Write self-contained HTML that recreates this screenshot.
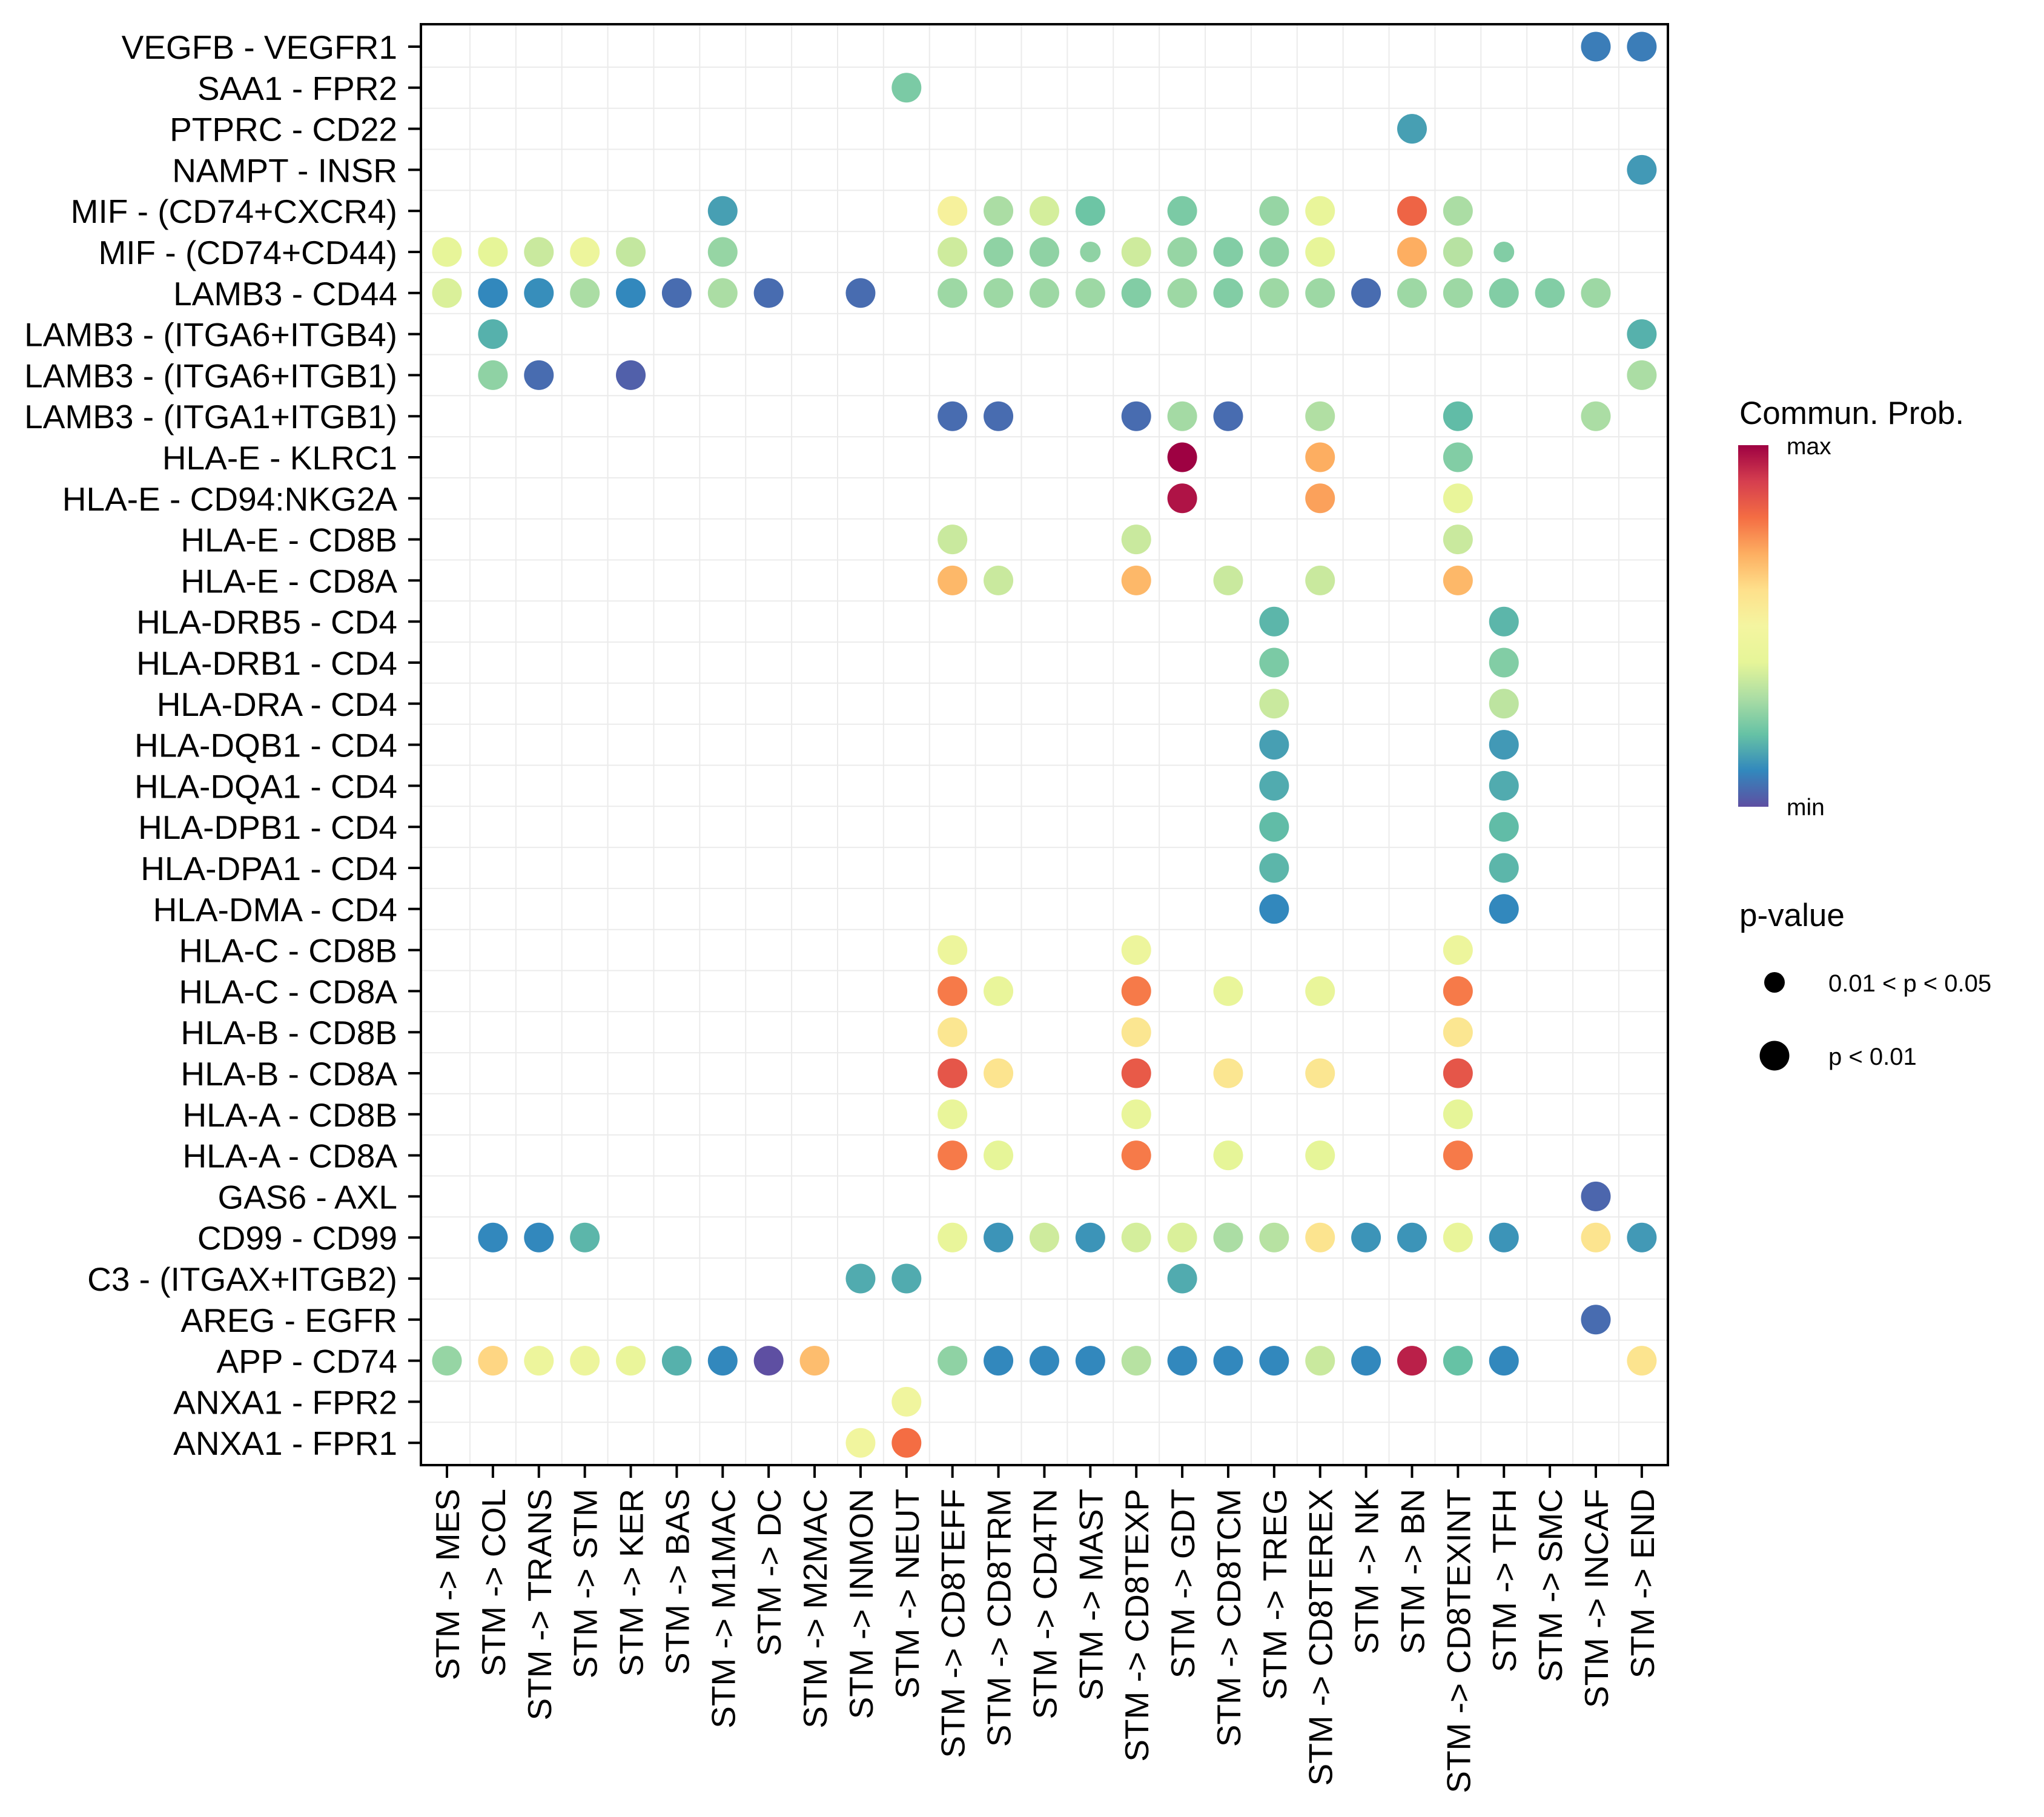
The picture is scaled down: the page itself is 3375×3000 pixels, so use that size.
<!DOCTYPE html>
<html><head><meta charset="utf-8"><style>
html,body{margin:0;padding:0;background:#fff;}
svg{display:block;font-family:"Liberation Sans",Arial,sans-serif;}
</style></head><body>
<svg id="chart" width="3375" height="3000" viewBox="0 0 3375 3000" xmlns="http://www.w3.org/2000/svg">
<defs>
<linearGradient id="spec" x1="0" y1="1" x2="0" y2="0">
<stop offset="0" stop-color="#5E4FA2"/><stop offset="0.1" stop-color="#3288BD"/><stop offset="0.2" stop-color="#66C2A5"/><stop offset="0.3" stop-color="#ABDDA4"/><stop offset="0.4" stop-color="#E6F598"/><stop offset="0.5" stop-color="#F4F5A0"/><stop offset="0.6" stop-color="#FEE08B"/><stop offset="0.7" stop-color="#FDAE61"/><stop offset="0.8" stop-color="#F46D43"/><stop offset="0.9" stop-color="#D53E4F"/><stop offset="1" stop-color="#9E0142"/>
</linearGradient>
</defs>
<g id="grid"></g>
<g id="dots"></g>
<rect x="695" y="40" width="2059" height="2379" fill="none" stroke="#000" stroke-width="4"/>
<g id="yaxis"></g>
<g id="xaxis"></g>
<g>
<text x="2872" y="700" font-size="53">Commun. Prob.</text>
<rect x="2870" y="735" width="50" height="597" fill="url(#spec)"/>
<text x="2950" y="750" font-size="39">max</text>
<text x="2950" y="1346" font-size="39">min</text>
</g>
<g>
<text x="2872" y="1529" font-size="53">p-value</text>
<circle cx="2930" cy="1622" r="17" fill="#000"/>
<text x="3019" y="1637" font-size="40">0.01 &lt; p &lt; 0.05</text>
<circle cx="2930" cy="1743" r="24.5" fill="#000"/>
<text x="3019" y="1758" font-size="40">p &lt; 0.01</text>
</g>
</svg>
<script>
const rowLabels = ["VEGFB - VEGFR1","SAA1 - FPR2","PTPRC - CD22","NAMPT - INSR","MIF - (CD74+CXCR4)","MIF - (CD74+CD44)","LAMB3 - CD44","LAMB3 - (ITGA6+ITGB4)","LAMB3 - (ITGA6+ITGB1)","LAMB3 - (ITGA1+ITGB1)","HLA-E - KLRC1","HLA-E - CD94:NKG2A","HLA-E - CD8B","HLA-E - CD8A","HLA-DRB5 - CD4","HLA-DRB1 - CD4","HLA-DRA - CD4","HLA-DQB1 - CD4","HLA-DQA1 - CD4","HLA-DPB1 - CD4","HLA-DPA1 - CD4","HLA-DMA - CD4","HLA-C - CD8B","HLA-C - CD8A","HLA-B - CD8B","HLA-B - CD8A","HLA-A - CD8B","HLA-A - CD8A","GAS6 - AXL","CD99 - CD99","C3 - (ITGAX+ITGB2)","AREG - EGFR","APP - CD74","ANXA1 - FPR2","ANXA1 - FPR1"];
const colLabels = ["STM -> MES","STM -> COL","STM -> TRANS","STM -> STM","STM -> KER","STM -> BAS","STM -> M1MAC","STM -> DC","STM -> M2MAC","STM -> INMON","STM -> NEUT","STM -> CD8TEFF","STM -> CD8TRM","STM -> CD4TN","STM -> MAST","STM -> CD8TEXP","STM -> GDT","STM -> CD8TCM","STM -> TREG","STM -> CD8TEREX","STM -> NK","STM -> BN","STM -> CD8TEXINT","STM -> TFH","STM -> SMC","STM -> INCAF","STM -> END"];
// [row, col, prob (0=min..1=max), pvalue class (1: p<0.01, 0: 0.01<p<0.05)]
const cells = [
[0,25,0.08,1],[0,26,0.08,1],
[1,10,0.23,1],
[2,21,0.14,1],
[3,26,0.13,1],
[4,6,0.14,1],[4,11,0.52,1],[4,12,0.30,1],[4,13,0.37,1],[4,14,0.21,1],[4,16,0.23,1],[4,18,0.27,1],[4,19,0.42,1],[4,21,0.82,1],[4,22,0.30,1],
[5,0,0.41,1],[5,1,0.40,1],[5,2,0.35,1],[5,3,0.45,1],[5,4,0.34,1],[5,6,0.27,1],[5,11,0.36,1],[5,12,0.26,1],[5,13,0.26,1],[5,14,0.26,0],[5,15,0.36,1],[5,16,0.27,1],[5,17,0.24,1],[5,18,0.26,1],[5,19,0.41,1],[5,21,0.70,1],[5,22,0.32,1],[5,23,0.24,0],
[6,0,0.38,1],[6,1,0.10,1],[6,2,0.11,1],[6,3,0.30,1],[6,4,0.10,1],[6,5,0.05,1],[6,6,0.30,1],[6,7,0.05,1],[6,9,0.05,1],[6,11,0.28,1],[6,12,0.28,1],[6,13,0.28,1],[6,14,0.28,1],[6,15,0.24,1],[6,16,0.28,1],[6,17,0.24,1],[6,18,0.28,1],[6,19,0.28,1],[6,20,0.05,1],[6,21,0.28,1],[6,22,0.28,1],[6,23,0.24,1],[6,24,0.24,1],[6,25,0.28,1],
[7,1,0.17,1],[7,26,0.17,1],
[8,1,0.26,1],[8,2,0.05,1],[8,4,0.03,1],[8,26,0.30,1],
[9,11,0.05,1],[9,12,0.05,1],[9,15,0.05,1],[9,16,0.29,1],[9,17,0.05,1],[9,19,0.31,1],[9,22,0.19,1],[9,25,0.30,1],
[10,16,1.00,1],[10,19,0.70,1],[10,22,0.24,1],
[11,16,0.97,1],[11,19,0.72,1],[11,22,0.42,1],
[12,11,0.35,1],[12,15,0.35,1],[12,22,0.35,1],
[13,11,0.68,1],[13,12,0.35,1],[13,15,0.68,1],[13,17,0.35,1],[13,19,0.35,1],[13,22,0.68,1],
[14,18,0.18,1],[14,23,0.18,1],
[15,18,0.23,1],[15,23,0.24,1],
[16,18,0.35,1],[16,23,0.33,1],
[17,18,0.14,1],[17,23,0.13,1],
[18,18,0.16,1],[18,23,0.16,1],
[19,18,0.19,1],[19,23,0.19,1],
[20,18,0.18,1],[20,23,0.18,1],
[21,18,0.10,1],[21,23,0.10,1],
[22,11,0.45,1],[22,15,0.45,1],[22,22,0.45,1],
[23,11,0.78,1],[23,12,0.42,1],[23,15,0.78,1],[23,17,0.42,1],[23,19,0.42,1],[23,22,0.78,1],
[24,11,0.57,1],[24,15,0.57,1],[24,22,0.57,1],
[25,11,0.85,1],[25,12,0.58,1],[25,15,0.84,1],[25,17,0.57,1],[25,19,0.57,1],[25,22,0.85,1],
[26,11,0.42,1],[26,15,0.42,1],[26,22,0.40,1],
[27,11,0.78,1],[27,12,0.40,1],[27,15,0.78,1],[27,17,0.40,1],[27,19,0.40,1],[27,22,0.78,1],
[28,25,0.04,1],
[29,1,0.10,1],[29,2,0.10,1],[29,3,0.18,1],[29,11,0.42,1],[29,12,0.12,1],[29,13,0.36,1],[29,14,0.12,1],[29,15,0.37,1],[29,16,0.38,1],[29,17,0.30,1],[29,18,0.32,1],[29,19,0.58,1],[29,20,0.12,1],[29,21,0.12,1],[29,22,0.42,1],[29,23,0.12,1],[29,25,0.58,1],[29,26,0.13,1],
[30,9,0.16,1],[30,10,0.16,1],[30,16,0.16,1],
[31,25,0.05,1],
[32,0,0.27,1],[32,1,0.62,1],[32,2,0.45,1],[32,3,0.45,1],[32,4,0.43,1],[32,5,0.17,1],[32,6,0.10,1],[32,7,0.00,1],[32,8,0.67,1],[32,11,0.26,1],[32,12,0.10,1],[32,13,0.10,1],[32,14,0.10,1],[32,15,0.32,1],[32,16,0.10,1],[32,17,0.10,1],[32,18,0.10,1],[32,19,0.35,1],[32,20,0.10,1],[32,21,0.95,1],[32,22,0.20,1],[32,23,0.10,1],[32,26,0.58,1],
[33,10,0.47,1],
[34,9,0.48,1],[34,10,0.80,1]
];
const NS="http://www.w3.org/2000/svg";
const X0=738, XSTEP=75.88, Y0=77, YSTEP=67.8;
const PL=695, PR=2754, PT=40, PB=2419;
function xPos(i){return X0+i*XSTEP;}
function yPos(i){return Y0+i*YSTEP;}
const stops=["#5E4FA2","#3288BD","#66C2A5","#ABDDA4","#E6F598","#F4F5A0","#FEE08B","#FDAE61","#F46D43","#D53E4F","#9E0142"];
function hex(h){return [1,3,5].map(k=>parseInt(h.substr(k,2),16));}
function colorOf(t){t=Math.max(0,Math.min(1,t));const p=t*10;const i=Math.min(9,Math.floor(p));const f=p-i;const a=hex(stops[i]),b=hex(stops[i+1]);return "rgb("+a.map((v,k)=>Math.round(v+(b[k]-v)*f)).join(",")+")";}
function mk(tag,attrs,parent){const e=document.createElementNS(NS,tag);for(const k in attrs)e.setAttribute(k,attrs[k]);parent.appendChild(e);return e;}
const grid=document.getElementById('grid');
for(let i=0;i<colLabels.length-1;i++){const x=(xPos(i)+xPos(i+1))/2;
const l=mk('line',{x1:x,x2:x,y1:PT,y2:PB,stroke:'#EBEBEB','stroke-width':2},grid);

}
for(let i=0;i<rowLabels.length-1;i++){const y=(yPos(i)+yPos(i+1))/2;
const l=mk('line',{x1:PL,x2:PR,y1:y,y2:y,stroke:'#EBEBEB','stroke-width':2},grid);

}
const yax=document.getElementById('yaxis');
rowLabels.forEach((lab,i)=>{const y=yPos(i);
const t=mk('line',{x1:674,x2:695,y1:y,y2:y,stroke:'#000','stroke-width':4},yax);


const tx=mk('text',{x:656,y:y+20,'text-anchor':'end','font-size':55,fill:'#000'},yax);
tx.textContent=lab;

});
const xax=document.getElementById('xaxis');
colLabels.forEach((lab,i)=>{const x=xPos(i);
const t=mk('line',{x1:x,x2:x,y1:2419,y2:2440,stroke:'#000','stroke-width':4},xax);


const tx=mk('text',{x:0,y:0,'text-anchor':'end','font-size':55,fill:'#000',transform:'translate('+(x+20)+',2458) rotate(-90)'},xax);
tx.textContent=lab;

});
const dots=document.getElementById('dots');
cells.forEach(c=>{const d=mk('circle',{cx:xPos(c[1]),cy:yPos(c[0]),r:c[3]?24.5:17,fill:colorOf(c[2])},dots);

});
</script>
</body></html>
